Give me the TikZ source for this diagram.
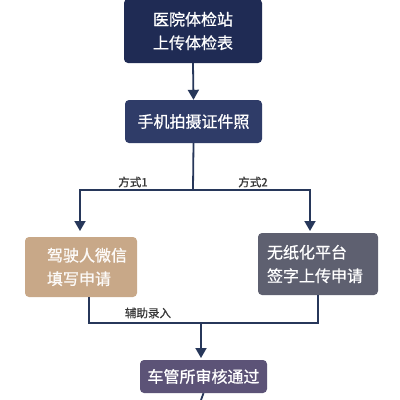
\documentclass[tikz,border=0pt]{standalone}
\usepackage{fontspec}
\setmainfont{Noto Sans CJK SC}
\newfontfamily\medfont{Noto Sans CJK SC}[FakeBold=0.8]
\usetikzlibrary{arrows.meta}
\definecolor{navyA}{HTML}{1F2B54}
\definecolor{navyB}{HTML}{2F3C68}
\definecolor{tanC}{HTML}{C8A888}
\definecolor{grayD}{HTML}{5E6070}
\definecolor{purpE}{HTML}{5C5377}
\definecolor{lineC}{HTML}{27375A}
\tikzset{
  box/.style={rounded corners=4pt, text=white, font=\medfont\fontsize{16}{23.5}\selectfont, inner sep=0pt},
  conn/.style={draw=lineC, line width=1.8pt},
  arr/.style={conn, -{Triangle[width=11pt,length=10pt]}},
  lbl/.style={font=\medfont\fontsize{11.5}{13}\selectfont, text=black!78, inner sep=0pt}
}
\begin{document}
\begin{tikzpicture}[x=1pt,y=-1pt]
\useasboundingbox (0,0) rectangle (400,400);
\fill[white] (0,0) rectangle (400,400);
\node[box, fill=navyA, minimum width=138pt, minimum height=64pt, align=center] (b1) at (193,31) {医院体检站\\上传体检表};
\node[box, fill=navyB, minimum width=137pt, minimum height=43pt] (b2) at (193.5,121.5) {手机拍摄证件照};
\node[box, fill=tanC, minimum width=112pt, minimum height=60pt, align=left, text width=100pt, inner xsep=6pt, text=white!94!tanC] (b3) at (81,267) {\hspace*{16pt}驾驶人微信\\\hspace*{16pt}填写申请};
\node[box, fill=grayD, minimum width=120pt, minimum height=62pt, align=left, text width=108pt, inner xsep=6pt] (b4) at (318,264) {\hspace*{3pt}无纸化平台\\\hspace*{3pt}签字上传申请};
\node[box, fill=purpE, minimum width=127pt, minimum height=33pt] (b5) at (203.5,376.5) {车管所审核通过};
\coordinate (split) at (193,190);
\coordinate (t3) at (80,231);
\coordinate (t4) at (310,231);
\coordinate (j) at (201,323);
\coordinate (t5) at (201,358);
\coordinate (bot) at (201,400);
\draw[arr] (b1.south) -- (b2.north);
\draw[conn] (b2.south) -- (split);
\draw[arr] (split) -| (t3);
\draw[arr] (split) -| (t4);
\draw[conn] (b3.south -| 89,0) |- (j);
\draw[conn] (b4.south) |- (j);
\draw[arr] (j) -- (t5);
\draw[conn] (b5.south) -- (bot);
\node[lbl] (l1) at (133,182) {方式1};
\node[lbl] (l2) at (253,182) {方式2};
\node[lbl] (l3) at (148,313) {辅助录入};
\end{tikzpicture}
\end{document}
